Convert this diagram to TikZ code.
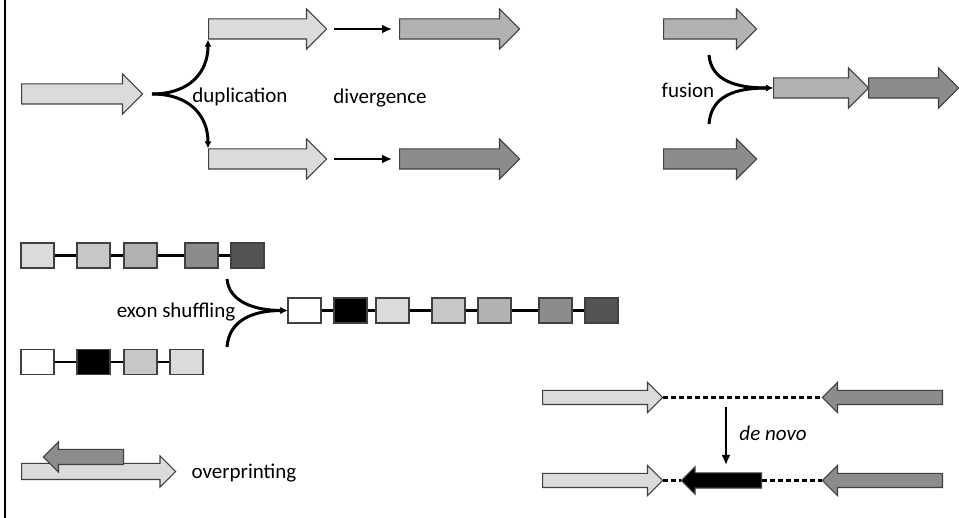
\documentclass[tikz,border=0pt]{standalone}
\usepackage{fontspec}
\setmainfont{Carlito}
\usetikzlibrary{arrows.meta,shapes.arrows,positioning}

\definecolor{shadeA}{gray}{0.86}
\definecolor{shadeB}{gray}{0.78}
\definecolor{shadeC}{gray}{0.70}
\definecolor{shadeD}{gray}{0.55}
\definecolor{shadeE}{gray}{0.33}

\begin{document}
\begin{tikzpicture}[x=1pt,y=-1pt,>=Latex,font=\fontsize{21}{25}\selectfont,
    gene/.style={single arrow,draw=black!75,line width=1.1pt,fill=#1,
      inner sep=9.5pt,single arrow head extend=10pt,minimum width=0pt,
      single arrow head indent=0pt,anchor=tail},
    slim gene/.style={gene=#1,inner sep=7.5pt,single arrow head extend=7.5pt},
    thin gene/.style={gene=#1,inner sep=6.5pt,single arrow head extend=8pt},
    backward/.style={shape border rotate=180},
    exon/.style={draw=black!75,line width=1.1pt,fill=#1,minimum width=33pt,
      minimum height=25pt,inner sep=0pt},
    link/.style={line width=2.2pt},
    fork/.style={line width=3pt,-{Latex[length=7pt,width=7pt]}},
    stepline/.style={line width=2.6pt,-{Latex[length=10pt,width=9pt]}},
    dashlink/.style={line width=2.2pt,dash pattern=on 5pt off 3pt}]
  \useasboundingbox (0,0) rectangle (959,518);
  \draw[line width=2pt] (5,0) -- (5,518);

  % Duplication and divergence.
  \node[gene=shadeA,minimum height=121pt] (orig) at (21,94) {};
  \node[gene=shadeA,minimum height=118pt] (dupUp) at (208,29) {};
  \node[gene=shadeA,minimum height=118pt] (dupDown) at (208,159) {};
  \node[gene=shadeC,minimum height=120pt] (divUp) at (399,29) {};
  \node[gene=shadeD,minimum height=120pt] (divDown) at (399,159) {};
  \coordinate (dupFork) at (152,94);
  \draw[fork] (dupFork) .. controls (190,94) and (208,72) .. (dupUp.before tail);
  \draw[fork] (dupFork) .. controls (190,94) and (208,116) .. (dupDown.after tail);
  \draw[stepline,shorten <=7pt,shorten >=7pt] (dupUp.tip) -- (divUp.tail);
  \draw[stepline,shorten <=7pt,shorten >=7pt] (dupDown.tip) -- (divDown.tail);
  \node (dupLabel) at (240,97) {duplication};
  \node (divLabel) at (380,98) {divergence};

  % Fusion.
  \node[gene=shadeC,minimum height=93pt] (fusUp) at (663,29) {};
  \node[gene=shadeD,minimum height=93pt] (fusDown) at (663,159) {};
  \node[gene=shadeC,minimum height=95pt] (fusedA) at (773,88) {};
  \node[gene=shadeD,minimum height=90pt] (fusedB) at (868,88) {};
  \coordinate (fusTop) at (709,55);
  \coordinate (fusBot) at (709,124);
  \draw[fork] (fusTop) .. controls (711,80) and (735,88) .. (fusedA.tail);
  \draw[fork] (fusBot) .. controls (711,96) and (735,88) .. (fusedA.tail);
  \node (fusLabel) at (688,90) {fusion};

  % Exon shuffling: two parents and the shuffled product.
  \foreach \x/\c [count=\i] in {21/shadeA,77/shadeB,124/shadeC,185/shadeD,231/shadeE}
    \node[exon=\c] (topEx\i) at (\x+16.5,255.5) {};
  \foreach \x/\c [count=\i] in {21/white,77/black,124/shadeB,170/shadeA}
    \node[exon=\c] (lowEx\i) at (\x+16.5,362) {};
  \foreach \x/\c [count=\i] in {288/white,334/black,376/shadeA,432/shadeB,478/shadeC,539/shadeD,585/shadeE}
    \node[exon=\c] (newEx\i) at (\x+16.5,310.5) {};
  \foreach \i [evaluate=\i as \j using int(\i+1)] in {1,...,4}
    \draw[link] (topEx\i.east) -- (topEx\j.west);
  \foreach \i [evaluate=\i as \j using int(\i+1)] in {1,...,3}
    \draw[link] (lowEx\i.east) -- (lowEx\j.west);
  \foreach \i [evaluate=\i as \j using int(\i+1)] in {1,...,6}
    \draw[link] (newEx\i.east) -- (newEx\j.west);
  \coordinate (shufTop) at (227,279);
  \coordinate (shufBot) at (227,347);
  \draw[fork] (shufTop) .. controls (229,302) and (255,310.5) .. (newEx1.west);
  \draw[fork] (shufBot) .. controls (229,319) and (255,310.5) .. (newEx1.west);
  \node (shufLabel) at (176,312) {exon shuffling};

  % Overprinting.
  \node[slim gene=shadeA,minimum height=154pt] (overFwd) at (21,471.5) {};
  \node[slim gene=shadeD,backward,inner sep=7pt,single arrow head extend=7.5pt,
    minimum height=80pt] (overRev) at (124,457) {};
  \node (overLabel) at (244,473) {overprinting};

  % De novo origin between two genes.
  \node[thin gene=shadeA,minimum height=120pt] (leftOld) at (542,397.5) {};
  \node[thin gene=shadeD,backward,minimum height=120pt] (rightOld) at (943,397.5) {};
  \node[thin gene=shadeA,minimum height=120pt] (leftNew) at (542,480.5) {};
  \node[thin gene=shadeD,backward,minimum height=120pt] (rightNew) at (943,480.5) {};
  \node[thin gene=black,backward,inner sep=7pt,single arrow head extend=6pt,
    minimum height=80pt] (novoGene) at (762,480.5) {};
  \draw[dashlink] (leftOld.tip) -- (rightOld.tip);
  \draw[dashlink] (leftNew.tip) -- (novoGene.tip);
  \draw[dashlink] (novoGene.tail) -- (rightNew.tip);
  \coordinate (novoFrom) at (726,407);
  \coordinate (novoTo) at (726,465);
  \draw[stepline] (novoFrom) -- (novoTo);
  \node[font=\fontsize{21}{25}\selectfont\itshape] (novoLabel) at (773,433) {de novo};
\end{tikzpicture}
\end{document}
